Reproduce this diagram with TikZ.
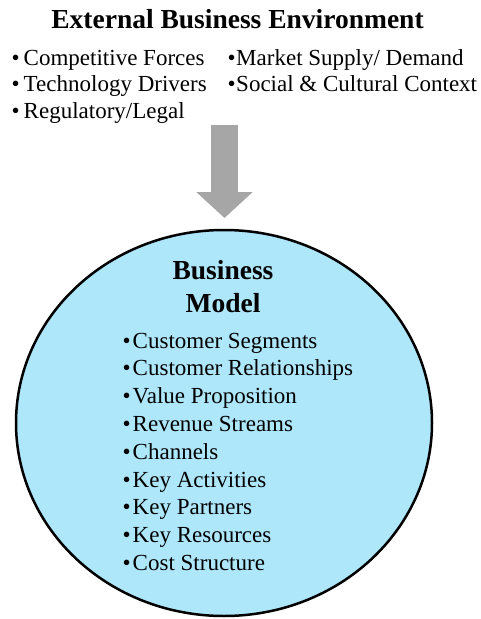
\documentclass[tikz,border=0pt]{standalone}
\usepackage{fontspec}
\setmainfont{Liberation Serif}
\usepackage{tikz}
\usetikzlibrary{arrows.meta,shapes.geometric}
\definecolor{bmblue}{HTML}{AEE6FA}
\definecolor{arrowgray}{HTML}{A6A6A6}

\begin{document}
\begin{tikzpicture}[x=1pt, y=-1pt, >={Triangle[width=55pt,length=26pt]},
    heading/.style={anchor=base, inner sep=0pt, font=\fontsize{27.5}{33}\selectfont\bfseries},
    envitem/.style={anchor=base west, inner sep=0pt, font=\fontsize{23}{27}\selectfont},
    bmitem/.style={anchor=base west, inner sep=0pt, font=\fontsize{23}{28}\selectfont}]
    \useasboundingbox (0,0) rectangle (480,619);

    % External business environment
    \node (env) at (237.5,28) [heading] {External Business Environment};
    \node (comp) at (11.5,65) [envitem] {\textbullet\hspace{4pt}Competitive Forces};
    \node (tech) at (11.5,91.5) [envitem] {\textbullet\hspace{4pt}Technology Drivers};
    \node (reg) at (11.5,118) [envitem] {\textbullet\hspace{4pt}Regulatory/Legal};
    \node (mkt) at (227.5,65) [envitem] {\textbullet\hspace{0.5pt}Market Supply/ Demand};
    \node (soc) at (227.5,91.5) [envitem] {\textbullet\hspace{0.5pt}Social \& Cultural Context};

    % The business model
    \node (bm) at (224,423) [ellipse, draw, line width=2.5pt, fill=bmblue,
        minimum width=416pt, minimum height=386pt] {};
    \node (biz) at (223,279) [heading] {Business};
    \node (model) at (223,312) [heading] {Model};

    % Building blocks
    \node (seg) at (122.5,348) [bmitem] {\textbullet\hspace{2pt}Customer Segments};
    \node (rel) at (122.5,375.8) [bmitem] {\textbullet\hspace{2pt}Customer Relationships};
    \node (val) at (122.5,403.6) [bmitem] {\textbullet\hspace{2pt}Value Proposition};
    \node (rev) at (122.5,431.4) [bmitem] {\textbullet\hspace{2pt}Revenue Streams};
    \node (chan) at (122.5,459.2) [bmitem] {\textbullet\hspace{2pt}Channels};
    \node (act) at (122.5,487) [bmitem] {\textbullet\hspace{2pt}Key Activities};
    \node (part) at (122.5,514.8) [bmitem] {\textbullet\hspace{2pt}Key Partners};
    \node (res) at (122.5,542.6) [bmitem] {\textbullet\hspace{2pt}Key Resources};
    \node (cost) at (122.5,570.4) [bmitem] {\textbullet\hspace{2pt}Cost Structure};

    % Influence of the environment on the model
    \coordinate (src) at (224.5,125);
    \draw[->, arrowgray, line width=27pt, shorten >=10.75pt] (src) -- (src |- bm.north);
\end{tikzpicture}
\end{document}
